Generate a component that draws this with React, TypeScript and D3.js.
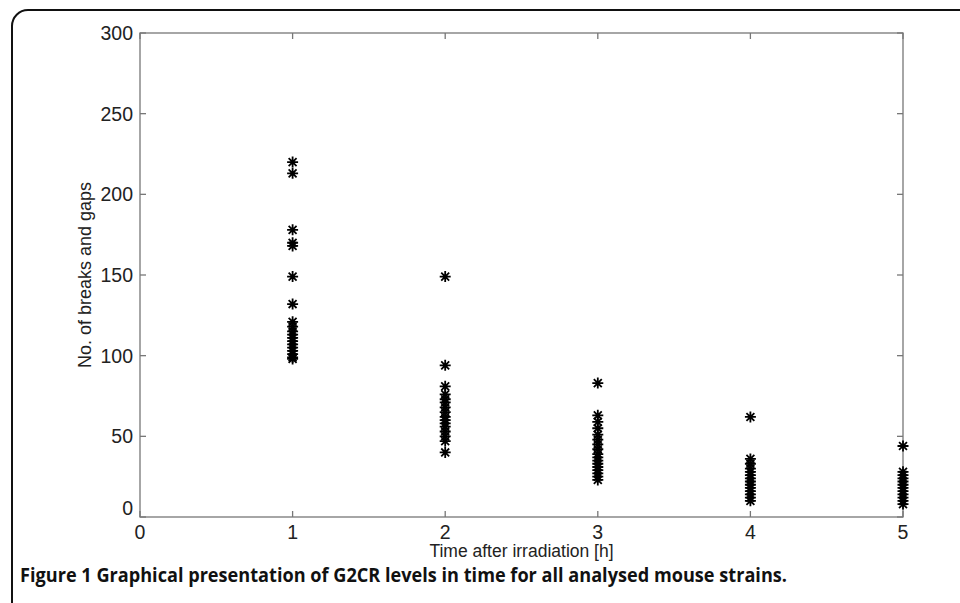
import * as d3 from 'd3'

// values, one array per time point
const hours = [1, 2, 3, 4, 5]
const h1 = [220, 213, 178, 170, 168, 149, 132, 121, 118, 115, 113, 111, 109, 107, 105, 103, 101, 99, 98]
const h2 = [149, 94, 81, 76, 73, 71, 68, 65, 62, 60, 58, 56, 53, 50, 47, 40]
const h3 = [83, 63, 59, 55, 51, 48, 45, 42, 39, 37, 35, 33, 31, 29, 27, 25, 23]
const h4 = [62, 36, 33, 30, 28, 26, 24, 22, 20, 18, 16, 14, 12, 10]
const h5 = [44, 28, 26, 24, 22, 20, 18, 16, 14, 12, 10, 8]
const xTicks = [0, 1, 2, 3, 4, 5]
const yTicks = [0, 50, 100, 150, 200, 250, 300]

const xLabel = 'Time after irradiation [h]'
const yLabel = 'No. of breaks and gaps'
const captionBold = 'Figure 1 Graphical presentation of G2CR levels in time for all analysed mouse strains'

// matlab-style '*' marker: plus + times
const star = {
  draw(ctx: any, size: number) {
    const r = Math.sqrt(size) / 2
    const d = r * 0.72
    ctx.moveTo(0, -r); ctx.lineTo(0, r)
    ctx.moveTo(-r, 0); ctx.lineTo(r, 0)
    ctx.moveTo(-d, -d); ctx.lineTo(d, d)
    ctx.moveTo(-d, d); ctx.lineTo(d, -d)
  },
}

export default function App() {
  const W = 960
  const H = 603
  const left = 140, right = 903, top = 33, bottom = 517

  const x = d3.scaleLinear().domain([0, 5]).range([left, right])
  const y = d3.scaleLinear().domain([0, 300]).range([bottom, top])

  const series = [h1, h2, h3, h4, h5]
  const points = series.flatMap((vals, i) => vals.map((v) => ({ t: hours[i], v })))
  const marker = d3.symbol(star as any, 121)()

  const axisColor = '#777'
  const textColor = '#222'
  const font = '"Liberation Sans", Arial, sans-serif'

  return (
    <svg width={W} height={H} style={{ position: 'absolute', left: 0, top: 0, background: '#fff' }}>
      <rect x={12} y={10} width={1000} height={700} rx={16} fill="#fff" stroke="#111" strokeWidth={2} />

      {/* box */}
      <rect x={left} y={top} width={right - left} height={bottom - top} fill="none" stroke={axisColor} strokeWidth={1.3} />

      {yTicks.map((t) => (
        <g key={'y' + t}>
          <line x1={left} x2={left + 6} y1={y(t)} y2={y(t)} stroke={axisColor} strokeWidth={1.3} />
          <line x1={right} x2={right - 6} y1={y(t)} y2={y(t)} stroke={axisColor} strokeWidth={1.3} />
          <text x={left - 7} y={y(t) + (t === 0 ? -2 : 7)} textAnchor="end" fontFamily={font} fontSize={19.5} fill={textColor}>
            {t}
          </text>
        </g>
      ))}

      {xTicks.map((t) => (
        <g key={'x' + t}>
          <line x1={x(t)} x2={x(t)} y1={bottom} y2={bottom - 6} stroke={axisColor} strokeWidth={1.3} />
          <line x1={x(t)} x2={x(t)} y1={top} y2={top + 6} stroke={axisColor} strokeWidth={1.3} />
          <text x={x(t)} y={bottom + 22} textAnchor="middle" fontFamily={font} fontSize={19.5} fill={textColor}>
            {t}
          </text>
        </g>
      ))}

      <text x={(left + right) / 2} y={bottom + 40} textAnchor="middle" fontFamily={font} fontSize={17.5} fill={textColor}>
        {xLabel}
      </text>
      <text
        transform={`translate(91,${(top + bottom) / 2}) rotate(-90)`}
        textAnchor="middle"
        fontFamily={font}
        fontSize={18}
        fill={textColor}
      >
        {yLabel}
      </text>

      {points.map((p, i) => (
        <path
          key={i}
          d={marker ?? ''}
          transform={`translate(${x(p.t)},${y(p.v)})`}
          fill="none"
          stroke="#000"
          strokeWidth={1.8}
        />
      ))}

      <text x={20} y={582} fontFamily='"Open Sans", sans-serif' fontSize={19} fontWeight="bold" fill="#111"
        textLength={767} lengthAdjust="spacingAndGlyphs">
        {captionBold + '.'}
      </text>
    </svg>
  )
}
